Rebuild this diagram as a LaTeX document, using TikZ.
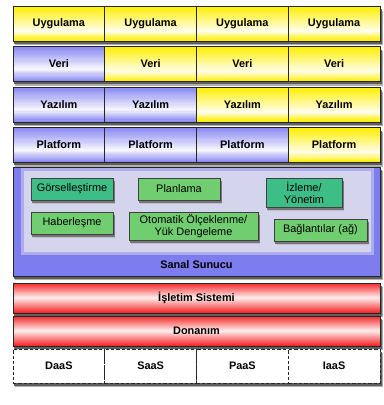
\documentclass[tikz,border=0pt]{standalone}
\usepackage{fontspec}
\setmainfont{Liberation Sans}
\usetikzlibrary{calc}

\definecolor{layeryellow}{RGB}{255,238,0}
\definecolor{layerblue}{RGB}{135,135,242}
\definecolor{layerred}{RGB}{245,35,35}
\definecolor{vmblue}{RGB}{125,125,240}
\definecolor{vmpanel}{RGB}{212,212,236}
\definecolor{svcteal}{RGB}{62,190,135}
\definecolor{svcgreen}{RGB}{112,205,112}
\definecolor{shadowgrey}{RGB}{95,95,95}
\definecolor{shadowpale}{RGB}{175,175,175}

\begin{document}
\begin{tikzpicture}[
  x=0.75pt, y=-0.75pt,
  font=\fontsize{8.2}{9.5}\selectfont,
  grad/.style n args={2}{path picture={
    \foreach \k in {0,...,29}{
      \pgfmathtruncatemacro\wf{((\k+0.5)/30<#2) ? 93*((\k+0.5)/30)/#2 : 93*(1-(\k+0.5)/30)/(1-#2)}
      \fill[white!\wf!#1]
        ($(path picture bounding box.north west)!{\k/30}!(path picture bounding box.south west)$)
        rectangle
        ($(path picture bounding box.north east)!{(\k+1.6)/30}!(path picture bounding box.south east)$);
    }}},
  cell/.style={
    draw=black!85, thin,
    minimum width=68.8pt, minimum height=25.9pt,
    inner sep=0pt, outer sep=0pt,
    font=\fontsize{8.2}{9.5}\selectfont\bfseries,
  },
  yel/.style={cell, grad={layeryellow}{0.72}},
  blu/.style={cell, grad={layerblue}{0.65}},
  wide/.style={
    draw=black!85, thin, grad={layerred}{0.5},
    minimum width=275.25pt, minimum height=22.5pt,
    inner sep=0pt, outer sep=0pt,
    font=\fontsize{8.2}{9.5}\selectfont\bfseries,
  },
  model/.style={cell, dash pattern=on 2.5pt off 1.5pt, fill=white, minimum height=25.5pt},
  svc/.style={
    draw=black!75, align=center,
    minimum width=61.5pt, minimum height=16.5pt,
    inner sep=1pt, outer sep=0pt,
    font=\fontsize{8.2}{9}\selectfont,
  },
]

\useasboundingbox (0,0) rectangle (384,405);

% row shadows
\foreach \cy/\h in {23.5/34.5,64/34.5,104.5/34.5,145/34.5,221.5/109,298/30,331/30,366/34}{
  \fill[shadowpale] (15.2,{\cy-\h/2+4.4}) rectangle (382.8,{\cy+\h/2+4.4});
  \fill[shadowgrey] (14.4,{\cy-\h/2+3}) rectangle (381.6,{\cy+\h/2+3});
}

% service layers
\foreach \i/\st in {1/yel,2/yel,3/yel,4/yel}
  \node[\st] (app\i) at ({13+91.75*(\i-0.5)},23.5) {Uygulama};
\foreach \i/\st in {1/blu,2/yel,3/yel,4/yel}
  \node[\st] (data\i) at ({13+91.75*(\i-0.5)},64) {Veri};
\foreach \i/\st in {1/blu,2/blu,3/yel,4/yel}
  \node[\st] (soft\i) at ({13+91.75*(\i-0.5)},104.5) {Yazılım};
\foreach \i/\st in {1/blu,2/blu,3/blu,4/yel}
  \node[\st] (plat\i) at ({13+91.75*(\i-0.5)},145) {Platform};

% virtual server
\node[draw=black!85, thin, fill=vmblue, minimum width=275.25pt, minimum height=81.75pt,
  inner sep=0pt] (vm) at (196.5,221.5) {};
\node[fill=vmpanel!55!vmblue, minimum width=264.75pt, minimum height=65.25pt, inner sep=0pt] (glow) at (197.5,211.5) {};
\node[fill=vmpanel, minimum width=260.25pt, minimum height=60.75pt, inner sep=0pt] (panel) at (glow) {};
\node[font=\fontsize{8.2}{9.5}\selectfont\bfseries] (vmlabel) at (196.5,265) {Sanal Sunucu};

\foreach \cx/\cy/\w/\h in {72/189/82/22,179/189/82/22,304/192.5/76/29,72/223/82/22,193.5/226/129/28,320.5/230/93/22}{
  \fill[shadowpale!60!vmpanel] ({\cx-\w/2+2},{\cy-\h/2+3.8}) rectangle ({\cx+\w/2+2.4},{\cy+\h/2+3.8});
  \fill[shadowgrey!80!vmpanel] ({\cx-\w/2+1.2},{\cy-\h/2+2.6}) rectangle ({\cx+\w/2+1.6},{\cy+\h/2+2.6});
}

\node[svc, fill=svcteal] (vis) at (72,189) {Görselleştirme};
\node[svc, fill=svcgreen] (plan) at (179,189) {Planlama};
\node[svc, fill=svcteal, minimum width=57pt, minimum height=21.75pt, inner sep=0pt] (mon) at (304,192.5) {İzleme/\\Yönetim};
\node[svc, fill=svcgreen] (msg) at (72,223) {Haberleşme};
\node[svc, fill=svcgreen, minimum width=96.75pt, minimum height=21pt, inner sep=0pt] (scale) at (193.5,226) {Otomatik Ölçeklenme/\\Yük Dengeleme};
\node[svc, fill=svcgreen, minimum width=69.75pt] (net) at (320.5,230) {Bağlantılar (ağ)};

% base layers
\node[wide] (os) at (196.5,298) {İşletim Sistemi};
\node[wide] (hw) at (196.5,331) {Donanım};

\foreach \i/\txt in {1/DaaS,2/SaaS,3/PaaS,4/IaaS}
  \node[model] (xaas\i) at ({13+91.75*(\i-0.5)},366) {\txt};

\end{tikzpicture}
\end{document}
